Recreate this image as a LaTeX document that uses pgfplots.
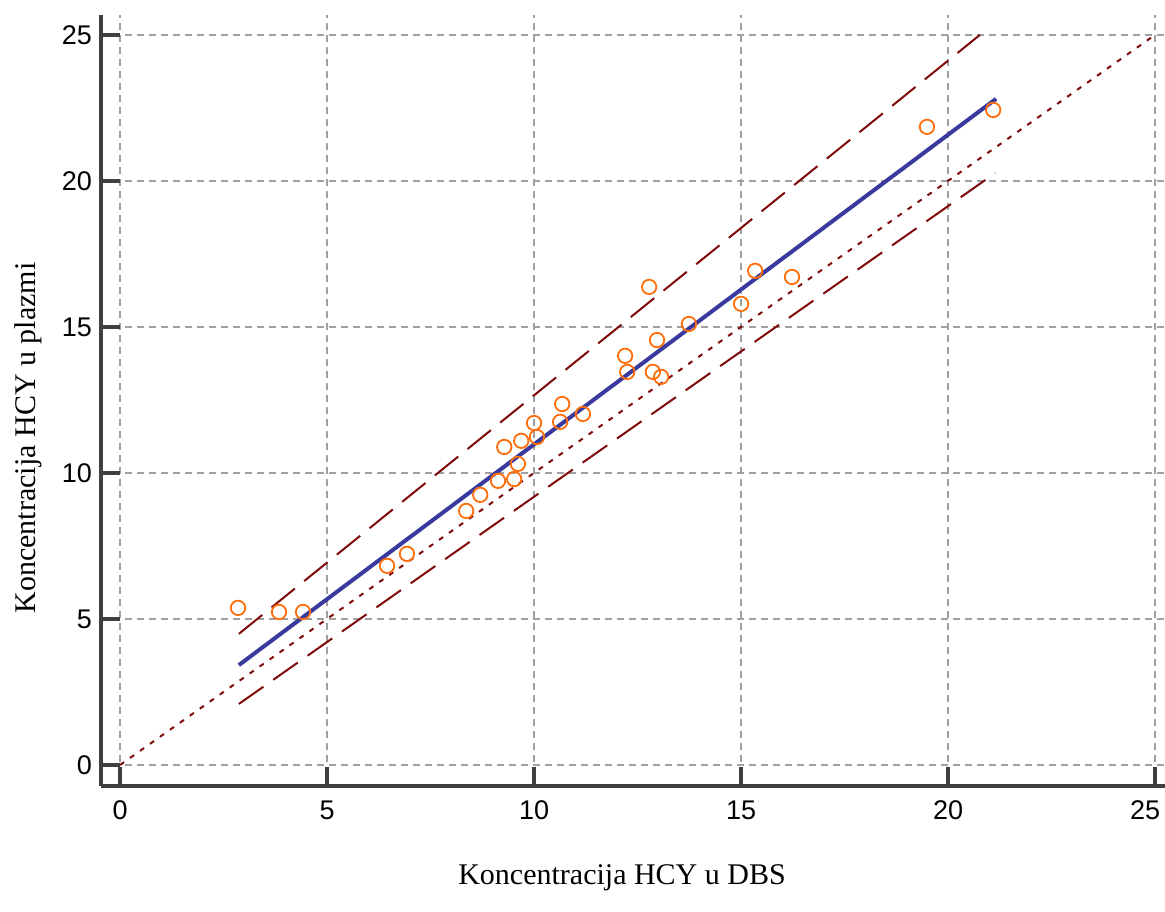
\documentclass[border=0pt]{standalone}
\usepackage{fontspec}
\setmainfont{Liberation Serif}
\newfontfamily\ticksf{Liberation Sans}
\usepackage{pgfplots}
\pgfplotsset{compat=1.18}

\definecolor{spine}{RGB}{64,64,64}
\definecolor{gridc}{RGB}{160,160,160}
\definecolor{ptorange}{RGB}{255,110,10}
\definecolor{fitblue}{RGB}{58,58,158}
\definecolor{bandred}{RGB}{128,10,10}

\begin{document}
\begin{tikzpicture}
\begin{axis}[
  scale only axis,
  width=532pt, height=385.5pt,
  xmin=-0.46, xmax=25.24,
  ymin=-0.72, ymax=25.68,
  axis lines=left,
  axis line style={-, line width=1.8pt, spine},
  xtick={0,5,...,25}, ytick={0,5,...,25},
  xticklabels={0,5,10,15,20,{25\kern10pt}},
  tick align=inside,
  major tick length=9.5pt,
  tick style={line width=1.8pt, spine},
  grid=major,
  major grid style={gridc, line width=0.9pt, dash pattern=on 3.5pt off 2.5pt},
  /pgf/number format/assume math mode=true,
  tick label style={font=\fontsize{13.5}{16}\ticksf},
  xticklabel style={yshift=-4pt},
  yticklabel style={xshift=-1pt},
  label style={font=\fontsize{15}{18}\selectfont},
  xlabel={Koncentracija HCY u DBS},
  ylabel={Koncentracija HCY u plazmi},
  xlabel style={at={(axis description cs:0.4897,0)}, anchor=base, yshift=-49pt},
  ylabel style={at={(axis description cs:-0.062,0.4514)}, anchor=base},
  clip=false,
]
% identity line
\addplot[bandred, line width=1pt, dash pattern=on 2.5pt off 3.6pt] coordinates {(0,0) (25,25)};
% confidence lines
\addplot[bandred, line width=1pt, dash pattern=on 15pt off 6pt] coordinates {(2.87,4.49) (20.77,25.0)};
\addplot[bandred, line width=1pt, dash pattern=on 15pt off 6pt] coordinates {(2.87,2.09) (21.14,20.27)};
% measurements
\addplot[only marks, mark=o, mark size=3.6pt, ptorange, mark options={line width=0.9pt}] coordinates {
(2.85,5.38) (3.84,5.24) (4.42,5.24) (6.45,6.82) (6.93,7.23)
(8.36,8.70) (8.70,9.25) (9.13,9.73) (9.28,10.89) (9.52,9.79)
(9.61,10.31) (9.69,11.10) (10.00,11.71) (10.07,11.23) (10.63,11.75)
(10.68,12.36) (11.18,12.02) (12.20,14.01) (12.25,13.46) (12.78,16.37)
(12.87,13.46) (12.97,14.55) (13.07,13.29) (13.74,15.10) (15.00,15.79)
(15.34,16.92) (16.23,16.71) (19.49,21.85) (21.09,22.43)
};
% regression line
\addplot[fitblue, line width=2pt] coordinates {(2.87,3.42) (21.16,22.81)};
\coordinate (o) at (rel axis cs:0,0);
\end{axis}
\pgfresetboundingbox
\useasboundingbox (o) ++(-50.5pt,-62.5pt) rectangle ++(582.5pt,455.5pt);
\end{tikzpicture}
\end{document}
